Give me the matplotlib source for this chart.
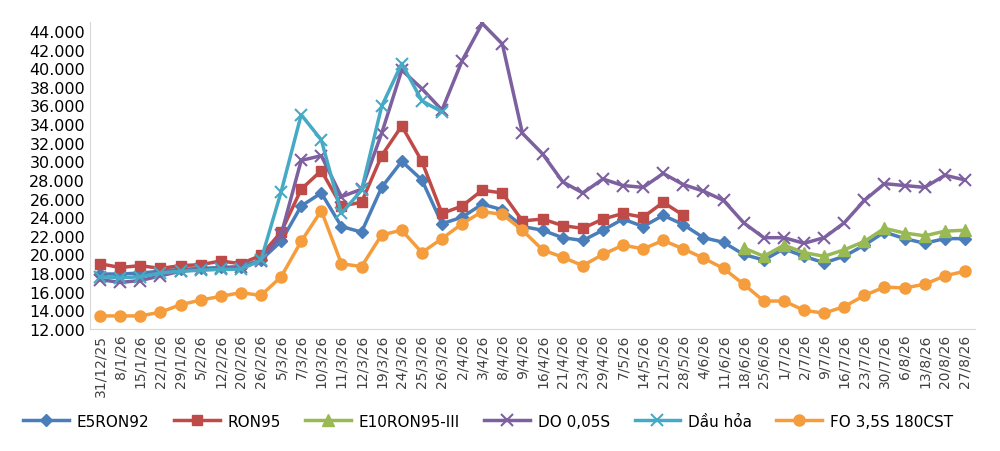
import matplotlib
matplotlib.use("Agg")
import matplotlib.pyplot as plt
from matplotlib.ticker import FuncFormatter, MultipleLocator

dates = ["31/12/25","8/1/26","15/1/26","22/1/26","29/1/26","5/2/26","12/2/26","20/2/26","26/2/26","5/3/26",
         "7/3/26","10/3/26","11/3/26","12/3/26","19/3/26","24/3/26","25/3/26","26/3/26","2/4/26","3/4/26",
         "8/4/26","9/4/26","16/4/26","21/4/26","23/4/26","29/4/26","7/5/26","14/5/26","21/5/26","28/5/26",
         "4/6/26","11/6/26","18/6/26","25/6/26","1/7/26","2/7/26","9/7/26","16/7/26","23/7/26","30/7/26",
         "6/8/26","13/8/26","20/8/26","27/8/26"]

e5 = [17.9,17.9,18.0,18.2,18.4,18.5,18.6,18.7,19.4,21.4,25.2,26.6,23.0,22.4,27.2,30.0,28.0,23.3,24.0,25.4,
      24.8,23.0,22.6,21.8,21.5,22.6,23.8,23.0,24.2,23.2,21.8,21.3,20.0,19.4,20.6,19.8,19.1,19.8,21.0,22.4,
      21.7,21.2,21.7,21.7]
ron95 = [19.0,18.6,18.8,18.5,18.8,18.9,19.3,19.0,19.9,22.4,27.0,29.0,25.2,25.6,30.6,33.8,30.0,24.4,25.2,26.9,
         26.6,23.6,23.8,23.1,22.8,23.8,24.4,24.0,25.6,24.2]
e10 = [20.7,19.8,21.0,20.2,19.8,20.5,21.4,22.8,22.3,22.0,22.5,22.6]
e10_start = 32
do = [17.3,17.0,17.2,17.7,18.2,18.4,18.5,18.6,19.3,22.1,30.1,30.6,26.2,27.0,33.0,39.8,37.8,35.5,40.8,44.8,
      42.6,33.0,30.8,27.8,26.6,28.1,27.4,27.2,28.7,27.5,26.8,25.8,23.4,21.8,21.8,21.2,21.8,23.4,25.8,27.6,
      27.4,27.2,28.5,28.0]
dauhoa = [17.6,17.5,17.6,18.0,18.2,18.3,18.4,18.4,19.4,26.7,35.0,32.3,24.4,26.9,35.9,40.5,36.5,35.3]
fo = [13.4,13.4,13.4,13.8,14.6,15.1,15.5,15.9,15.6,17.6,21.4,24.7,19.0,18.7,22.1,22.6,20.2,21.7,23.3,24.6,
      24.3,22.6,20.5,19.7,18.8,20.0,21.0,20.6,21.5,20.6,19.6,18.5,16.8,15.0,15.0,14.0,13.7,14.4,15.6,16.5,
      16.4,16.8,17.7,18.2]

fig = plt.figure(figsize=(10, 4.52), dpi=100)
ax = fig.add_axes([0.09, 0.27, 0.885, 0.68])
x = list(range(len(dates)))
lw = 2.5
ax.plot(x[:len(e5)], [v*1000 for v in e5], color="#4A7EBB", marker="D", ms=6, lw=lw, label="E5RON92")
ax.plot(x[:len(ron95)], [v*1000 for v in ron95], color="#BE4B48", marker="s", ms=7, lw=lw, label="RON95")
ax.plot(x[e10_start:e10_start+len(e10)], [v*1000 for v in e10], color="#98B954", marker="^", ms=8, lw=lw, label="E10RON95-III")
ax.plot(x[:len(do)], [v*1000 for v in do], color="#7D60A0", marker="x", ms=9, mew=1.5, lw=lw, label="DO 0,05S")
ax.plot(x[:len(dauhoa)], [v*1000 for v in dauhoa], color="#46AAC5", marker="x", ms=9, mew=1.5, lw=lw, label="Dầu hỏa")
ax.plot(x[:len(fo)], [v*1000 for v in fo], color="#F59D3D", marker="o", ms=8, lw=lw, label="FO 3,5S 180CST")

ax.set_ylim(12000, 45000)
ax.yaxis.set_major_locator(MultipleLocator(2000))
ax.yaxis.set_major_formatter(FuncFormatter(lambda v, p: f"{int(v):,}".replace(",", ".")))
ax.set_xlim(-0.5, len(dates)-0.5)
ax.set_xticks(x)
ax.set_xticklabels(dates)
ax.tick_params(axis="y", labelsize=11.5, length=0)
ax.tick_params(axis="x", length=0, labelsize=10, labelrotation=90, colors="#404040")
for s in ["top", "right"]:
    ax.spines[s].set_visible(False)
ax.spines["left"].set_color("#D9D9D9")
ax.spines["bottom"].set_color("#D9D9D9")
ax.legend(loc="center", bbox_to_anchor=(0.45, -0.30), ncol=6, frameon=False, fontsize=11,
          handlelength=3.0, columnspacing=1.6, handletextpad=0.5)
fig.savefig("out.png")
